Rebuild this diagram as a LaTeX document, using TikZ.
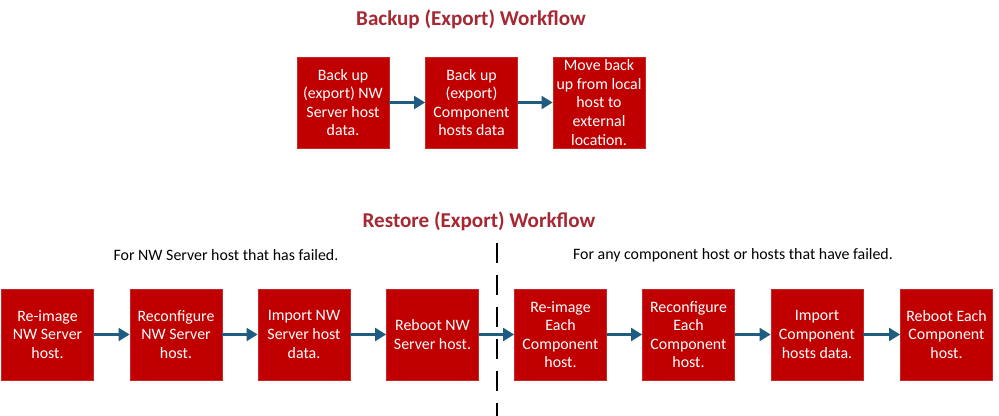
\documentclass[tikz,border=0pt]{standalone}
\usepackage{fontspec}
\setmainfont{Carlito}
\usepackage{tikz}
\usetikzlibrary{arrows.meta,positioning}
\usepackage{xcolor}
\definecolor{boxred}{RGB}{192,0,0}
\definecolor{titlered}{RGB}{165,40,50}
\definecolor{arrowblue}{RGB}{31,92,128}

\begin{document}
\begin{tikzpicture}[
  stepbox/.style={fill=boxred, draw=boxred!85!white, line width=0.4pt, minimum width=2.3cm, minimum height=2.275cm, inner sep=1pt, align=center, text=white, font=\fontsize{11.3}{13.2}\selectfont},
  flowtitle/.style={font=\fontsize{15}{18}\selectfont\bfseries, text=titlered},
  flownote/.style={font=\fontsize{11.3}{13.2}\selectfont, text=black},
  flowarrow/.style={draw=arrowblue, line width=2.2pt, -{Triangle[length=0.28cm, width=0.32cm]}}
]
\useasboundingbox (0,0) rectangle (24.975,10.4);

\node[flowtitle] (backuptitle) at (11.775,9.925) {Backup (Export) Workflow};

\node[stepbox] (b1) at (8.575,7.8375) {Back up\\(export) NW\\Server host\\data.};
\node[stepbox] (b2) at (11.7875,7.8375) {Back up\\(export)\\Component\\hosts data};
\node[stepbox] (b3) at (14.975,7.8375) {Move back\\up from local\\host to\\external\\location.};

\draw[flowarrow] (b1) -- (b2);
\draw[flowarrow] (b2) -- (b3);

\node[flowtitle] (restoretitle) at (11.975,4.875) {Restore (Export) Workflow};
\node[flownote] (servernote) at (5.65,4.025) {For NW Server host that has failed.};
\node[flownote] (compnote) at (18.325,4.025) {For any component host or hosts that have failed.};

% divider between the two restore cases
\coordinate (divtop) at (12.425,4.325);
\coordinate (divbot) at (12.425,0);
\draw[black, line width=1pt, dash pattern=on 0.5cm off 0.3cm] (divtop) -- (divbot);

\node[stepbox] (r1) at (1.1875,2.0375) {Re-image\\NW Server\\host.};
\node[stepbox] (r2) at (4.4,2.0375) {Reconfigure\\NW Server\\host.};
\node[stepbox] (r3) at (7.6,2.0375) {Import NW\\Server host\\data.};
\node[stepbox] (r4) at (10.8125,2.0375) {Reboot NW\\Server host.};
\node[stepbox] (r5) at (14.0125,2.0375) {Re-image\\Each\\Component\\host.};
\node[stepbox] (r6) at (17.2125,2.0375) {Reconfigure\\Each\\Component\\host.};
\node[stepbox] (r7) at (20.425,2.0375) {Import\\Component\\hosts data.};
\node[stepbox] (r8) at (23.6625,2.0375) {Reboot Each\\Component\\host.};

\foreach \a/\b in {r1/r2,r2/r3,r3/r4,r4/r5,r5/r6,r6/r7,r7/r8}
  \draw[flowarrow] (\a) -- (\b);
\end{tikzpicture}
\end{document}
